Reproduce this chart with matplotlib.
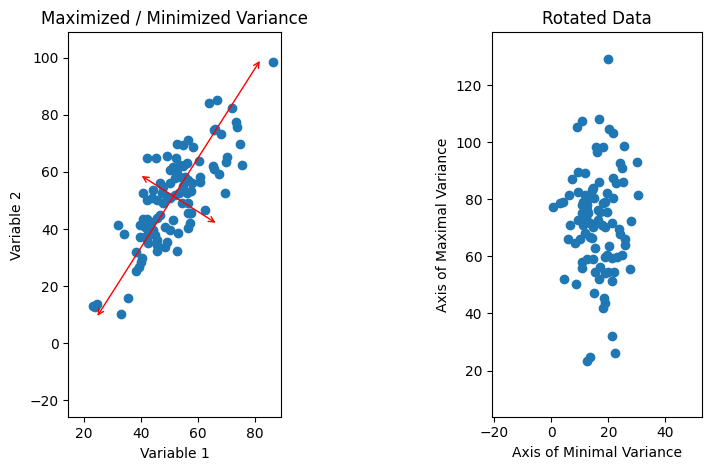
import matplotlib
matplotlib.use("Agg")
import matplotlib.pyplot as plt

# original data (left panel)
var1 = [86.1, 63.9, 66.7, 71.7, 73.2, 73.7, 74.6, 75.3,
        65.5, 66.0, 68.1, 70.2, 69.7, 65.2, 65.5, 67.4, 69.5,
        52.7, 54.6, 56.3, 58.1, 42.2, 45.3, 49.0, 52.3, 60.4,
        50.1, 51.3, 53.6, 56.0, 54.8, 52.7, 51.9, 50.1, 53.6, 56.5, 60.6, 57.7, 60.6, 55.4, 52.5, 54.8, 57.4, 53.3,
        46.6, 47.8, 44.3, 40.8, 42.0, 45.5, 47.8, 49.0, 43.7, 47.2, 50.1, 51.9, 56.0,
        56.5, 54.2, 62.4, 57.1, 56.3, 57.4,
        32.0, 39.6, 40.8, 42.2, 43.4, 45.5, 46.6, 51.3, 48.5, 50.1, 53.0, 56.5, 57.1, 41.4, 44.3,
        34.1, 39.6, 42.2, 44.9, 42.0, 45.5, 42.5, 45.5, 49.0, 48.4, 45.7, 52.7, 38.2, 40.2,
        39.9, 39.4, 38.2, 35.5, 23.3, 24.7, 23.9, 32.9]
var2 = [98.5, 84.3, 85.2, 82.3, 77.5, 75.7, 69.8, 62.5,
        74.6, 75.2, 73.2, 65.4, 63.4, 62.2, 61.0, 59.3, 52.5,
        69.7, 69.4, 71.2, 68.7, 65.0, 64.8, 65.6, 64.9, 63.9,
        60.7, 61.9, 62.5, 63.0, 62.1, 61.0, 57.8, 56.1, 58.4, 57.2, 58.4, 56.0, 56.6, 58.4, 59.3, 55.1, 53.3, 52.5,
        56.0, 54.9, 53.7, 52.5, 50.2, 50.2, 49.0, 51.3, 50.8, 52.5, 50.8, 52.0, 52.5,
        49.0, 49.0, 46.7, 45.5, 45.8, 45.8,
        41.4, 41.4, 43.4, 43.6, 42.6, 43.8, 44.9, 43.2, 40.8, 39.7, 38.5, 40.3, 42.0, 40.8, 39.7,
        38.2, 37.3, 37.9, 37.9, 36.3, 36.2, 35.0, 34.4, 35.6, 33.8, 32.3, 32.3, 32.1, 29.8,
        28.4, 26.8, 25.4, 15.8, 13.1, 13.8, 12.6, 10.2]

# principal axes drawn as double arrows (end points)
major_axis = [(24.7, 9.6), (81.6, 98.9)]
minor_axis = [(40.2, 58.6), (66.1, 42.2)]

# rotated data (right panel)
min_var = [20.0, 8.9, 10.6, 16.8, 20.3, 21.5, 15.7, 15.9, 18.2, 25.6, 24.1, 24.9, 30.1,
           7.1, 9.5, 11.8, 16.8, 21.7, 22.7, 25.2, 30.5, 6.3, 0.7, 3.0, 4.0,
           9.5, 11.8, 14.2, 13.6, 10.6, 12.4, 10.6, 13.0, 17.1, 19.4, 21.7, 18.2, 19.4,
           6.6, 9.5, 11.2, 14.7, 16.5, 18.8, 21.4, 23.8, 27.8,
           6.0, 8.3, 10.1, 11.8, 13.6, 25.8, 25.8, 15.3, 20.2,
           10.6, 12.4, 14.7, 10.6, 18.8, 21.2, 22.9, 24.7, 27.6,
           15.3, 17.1, 18.8, 16.8, 20.0, 22.1, 21.2, 4.4, 8.5, 15.1,
           18.6, 18.8, 18.2, 21.4, 22.4, 13.6, 12.6,
           11.2, 12.4, 14.7, 18.8, 16.5, 13.6, 17.6, 24.1, 14.2, 19.4, 12.0, 15.0]
max_var = [129.0, 105.2, 107.5, 108.0, 104.5, 103.3, 98.2, 96.7, 98.2, 98.7, 92.8, 91.1, 93.0,
           87.0, 89.7, 89.1, 86.0, 87.4, 85.8, 86.0, 81.5, 81.5, 77.2, 78.6, 79.2,
           82.7, 81.5, 83.3, 80.3, 78.0, 76.3, 75.1, 75.1, 75.7, 82.1, 80.3, 78.6, 75.7,
           71.0, 72.7, 71.0, 70.2, 72.7, 70.4, 71.6, 69.5, 72.4,
           66.0, 64.6, 66.0, 68.1, 66.9, 66.0, 64.0, 62.8, 63.6,
           58.1, 59.0, 59.0, 55.8, 59.9, 59.3, 59.7, 60.5, 55.5,
           54.6, 56.4, 54.3, 52.0, 54.6, 54.6, 51.5, 52.0, 50.2, 47.1,
           45.3, 43.6, 41.8, 32.1, 26.1, 24.7, 23.5,
           79.2, 78.0, 83.9, 79.2, 76.3, 71.6, 71.0, 68.0, 66.3, 60.5, 73.5, 80.5]

fig = plt.figure(figsize=(7.12, 4.70), dpi=100)
ax1 = fig.add_axes([68.3 / 712, 1 - 417.3 / 470, 212.4 / 712, 385 / 470])
ax2 = fig.add_axes([492 / 712, 1 - 416.7 / 470, 210.3 / 712, 384.4 / 470])

ax1.scatter(var1, var2)
for start, end in (major_axis, minor_axis):
    ax1.annotate('', xy=end, xytext=start,
                 arrowprops=dict(arrowstyle='<->', color='red', shrinkA=0, shrinkB=0))
ax1.set_xlim(14.5, 88.9)
ax1.set_ylim(-25.9, 108.9)
ax1.set_title('Maximized / Minimized Variance')
ax1.set_xlabel('Variable 1')
ax1.set_ylabel('Variable 2')

ax2.scatter(min_var, max_var)
ax2.set_xlim(-20.8, 52.9)
ax2.set_ylim(3.85, 138.5)
ax2.set_title('Rotated Data')
ax2.set_xlabel('Axis of Minimal Variance')
ax2.set_ylabel('Axis of Maximal Variance')

fig.savefig('out.png', dpi=100)
